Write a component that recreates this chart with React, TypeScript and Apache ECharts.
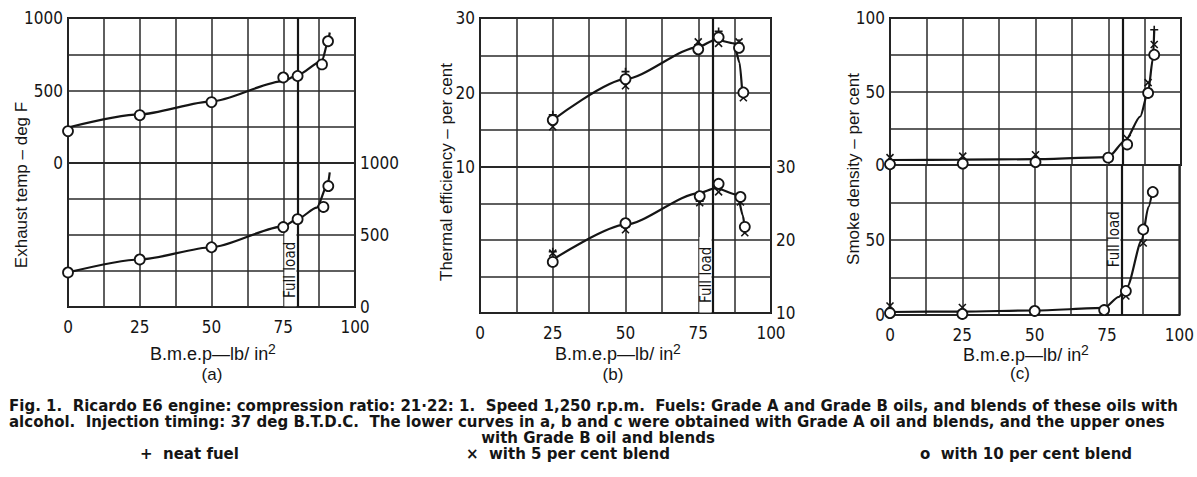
import React, { useEffect, useRef } from "react";
import * as echarts from "echarts";

// ---------------- data ----------------
const bmepLabels = [0, 25, 50, 75, 100];
const fullLoadBmep = 80;

// (a) Exhaust temperature, deg F
const aUpperYLabels = [0, 500, 1000];
const aLowerYLabels = [0, 500, 1000];
const aUpperPtsX = [0, 25, 50, 75, 80, 88.5, 90.6];
const aUpperCircle = [220, 330, 420, 590, 600, 680, 840];
const aUpperCurveX = [0, 25, 50, 75, 80, 88.5, 90.5, 91.2];
const aUpperCurveY = [245, 335, 425, 565, 607, 705, 830, 900];
const aLowerPtsX = [0, 25, 50, 75, 80, 89, 90.7];
const aLowerCircle = [240, 330, 415, 555, 610, 695, 840];
const aLowerCross = [240, 330, null, null, null, null, null];
const aLowerCurveX = [0, 25, 50, 75, 80, 86.7, 90.6, 91.2];
const aLowerCurveY = [240, 330, 415, 560, 612, 690, 860, 935];

// (b) Thermal efficiency, per cent
const bUpperYLabels = [10, 20, 30];
const bLowerYLabels = [10, 20, 30];
const bUpperPtsX = [25, 50, 75, 82, 89, 90.5];
const bUpperCircle = [16.3, 21.8, 25.8, 27.4, 26.0, 20.0];
const bUpperCross = [15.4, 20.9, 26.8, 26.6, 26.8, 19.3];
const bUpperPlus = [17.0, 22.8, 26.4, 28.2, 26.6, null];
const bUpperCurveX = [25, 50, 75, 81, 87.3, 89.2, 90.2];
const bUpperCurveY = [16.3, 21.8, 26.1, 27.1, 26.6, 24.0, 19.6];
const bLowerPtsX = [25, 50, 75.5, 82, 89.5, 91];
const bLowerCircle = [17.0, 22.3, 26.0, 27.7, 25.9, 21.8];
const bLowerCross = [18.2, 21.4, 25.1, 26.6, 25.2, 21.0];
const bLowerPlus = [18.4, 21.8, 25.3, null, null, null];
const bLowerCurveX = [25, 50, 75, 81, 88.5, 90.3, 91];
const bLowerCurveY = [17.3, 22.1, 26.4, 27.1, 26.2, 23.4, 21.6];

// (c) Smoke density, per cent
const cUpperYLabels = [0, 50, 100];
const cLowerYLabels = [0, 50];
const cUpperPtsX = [0, 25, 50, 75, 81.5, 88.7, 90.8];
const cUpperCircle = [0.5, 1, 2, 5, 14, 49, 75];
const cUpperCross = [5, 6, 7, null, 18, 56, 82];
const cUpperPlus = [null, null, null, null, null, null, 92];
const cUpperCurveX = [0, 25, 50, 75, 81, 86, 88.7, 90.4, 90.8];
const cUpperCurveY = [3.4, 3.6, 4, 5.4, 17, 33, 50, 73, 92];
const cLowerPtsX = [0, 25, 50, 74, 81.5, 87.5, 90.8];
const cLowerCircle = [1.3, 0.7, 2.7, 3.3, 16, 57, 82];
const cLowerCross = [6, 5, null, null, 12.7, 48, null];
const cLowerCurveX = [0, 25, 50, 74, 79, 82, 87, 89.3, 90.8];
const cLowerCurveY = [2, 2.3, 3, 4.7, 12, 19, 50, 72, 84];

// texts
const xTitle = "B.m.e.p—lb/ in";
const xTitleSup = "2";
const yTitleA = "Exhaust temp – deg F";
const yTitleB = "Thermal efficiency – per cent";
const yTitleC = "Smoke density – per cent";
const panelLetters = ["(a)", "(b)", "(c)"];
const fullLoadText = "Full load";
const cap1 =
  "Fig. 1.  Ricardo E6 engine: compression ratio: 21·22: 1.  Speed 1,250 r.p.m.  Fuels: Grade A and Grade B oils, and blends of these oils with";
const cap2 =
  "alcohol.  Injection timing: 37 deg B.T.D.C.  The lower curves in a, b and c were obtained with Grade A oil and blends, and the upper ones";
const cap3 = "with Grade B oil and blends";
const legendTexts = ["+  neat fuel", "×  with 5 per cent blend", "o  with 10 per cent blend"];

// ---------------- styling ----------------
const INK = "#151515";
const FONT_TICK = "'Liberation Sans Narrow', 'DejaVu Sans Condensed', 'Liberation Sans', Arial, sans-serif";
const FONT_TITLE = "'Liberation Sans', Arial, sans-serif";
const FONT_CAP = "'DejaVu Sans', sans-serif";
const CAP_WEIGHT = "bold";
const SYM_CROSS = "path://M0,0L10,10M10,0L0,10";
const SYM_PLUS = "path://M5,0L5,10M0,5L10,5";

const zip = (xs: number[], ys: (number | null)[]) =>
  xs.map((x, i) => [x, ys[i]]).filter((p) => p[1] !== null && p[1] !== undefined);

function measure(text: string, font: string) {
  const ctx = document.createElement("canvas").getContext("2d");
  if (!ctx) return text.length * 8.5;
  ctx.font = font;
  return ctx.measureText(text).width;
}

export default function App() {
  const ref = useRef<HTMLDivElement>(null);

  useEffect(() => {
    if (!ref.current) return;
    const chart = echarts.init(ref.current, undefined, { renderer: "svg" });

    const panels = [
      {
        left: 68, width: 287, upTop: 18, upH: 145, loH: 144,
        yMin: 0, yMax: 1000, yInt: 250,
        upLabels: aUpperYLabels, loLabels: aLowerYLabels, loSide: "right",
        up: { curve: zip(aUpperCurveX, aUpperCurveY), circle: zip(aUpperPtsX, aUpperCircle), cross: [], plus: [] },
        lo: { curve: zip(aLowerCurveX, aLowerCurveY), circle: zip(aLowerPtsX, aLowerCircle), cross: zip(aLowerPtsX, aLowerCross), plus: [] },
        box: [6, 510],
      },
      {
        left: 480, width: 291, upTop: 18, upH: 149, loH: 146,
        yMin: 10, yMax: 30, yInt: 5,
        upLabels: bUpperYLabels, loLabels: bLowerYLabels, loSide: "right",
        up: { curve: zip(bUpperCurveX, bUpperCurveY), circle: zip(bUpperPtsX, bUpperCircle), cross: zip(bUpperPtsX, bUpperCross), plus: zip(bUpperPtsX, bUpperPlus) },
        lo: { curve: zip(bLowerCurveX, bLowerCurveY), circle: zip(bLowerPtsX, bLowerCircle), cross: zip(bLowerPtsX, bLowerCross), plus: zip(bLowerPtsX, bLowerPlus) },
        box: [10.06, 20.4],
      },
      {
        left: 890, width: 291, upTop: 18, upH: 147, loH: 150,
        yMin: 0, yMax: 100, yInt: 25,
        upLabels: cUpperYLabels, loLabels: cLowerYLabels, loSide: "left",
        up: { curve: zip(cUpperCurveX, cUpperCurveY), circle: zip(cUpperPtsX, cUpperCircle), cross: zip(cUpperPtsX, cUpperCross), plus: zip(cUpperPtsX, cUpperPlus) },
        lo: { curve: zip(cLowerCurveX, cLowerCurveY), circle: zip(cLowerPtsX, cLowerCircle), cross: zip(cLowerPtsX, cLowerCross), plus: [] },
        box: [28, 73],
      },
    ];

    const grid: any[] = [];
    const xAxis: any[] = [];
    const yAxis: any[] = [];
    const series: any[] = [];
    const splitLine = { show: true, lineStyle: { color: "#2a2a2a", width: 1.5 } };

    panels.forEach((p, pi) => {
      (["up", "lo"] as const).forEach((half, hi) => {
        const idx = pi * 2 + hi;
        const top = hi === 0 ? p.upTop : p.upTop + p.upH;
        const height = hi === 0 ? p.upH : p.loH;
        grid.push({ left: p.left, top, width: p.width, height, show: true, borderColor: INK, borderWidth: 2, backgroundColor: "transparent" });
        xAxis.push({
          type: "value", gridIndex: idx, min: 0, max: 100, interval: 12.5,
          axisLine: { show: false }, axisTick: { show: false }, splitLine,
          axisLabel: {
            show: hi === 1, margin: 11, color: INK, fontSize: 17, lineHeight: 18, fontFamily: FONT_TICK,
            formatter: (v: number) => (bmepLabels.includes(v) ? String(v) : ""),
          },
        });
        const labels = hi === 0 ? p.upLabels : p.loLabels;
        yAxis.push({
          type: "value", gridIndex: idx, min: p.yMin, max: p.yMax, interval: p.yInt,
          position: hi === 0 ? "left" : p.loSide,
          axisLine: { show: false }, axisTick: { show: false }, splitLine,
          axisLabel: {
            margin: 5, color: INK, fontSize: 17, lineHeight: 18, fontFamily: FONT_TICK,
            formatter: (v: number) => (labels.includes(v) ? String(v) : ""),
          },
        });
        const d = (p as any)[half];
        const curve: any = {
          type: "line", xAxisIndex: idx, yAxisIndex: idx, data: d.curve,
          showSymbol: false, smooth: 0.25, smoothMonotone: "x", clip: false,
          lineStyle: { color: INK, width: 2.2 }, z: 3,
          markLine: {
            silent: true, symbol: "none", label: { show: false },
            lineStyle: { color: INK, width: 2.2, type: "solid" },
            data: [{ xAxis: fullLoadBmep }],
          },
        };
        if (hi === 1) {
          curve.markArea = {
            silent: true,
            itemStyle: { color: "#ffffff", opacity: 1 },
            label: {
              show: true, position: "inside", rotate: 90, color: INK,
              fontSize: 15, fontFamily: FONT_TICK,
            },
            data: [[{ name: fullLoadText, xAxis: 75.4, yAxis: p.box[0] }, { xAxis: 79.6, yAxis: p.box[1] }]],
          };
        }
        series.push(curve);
        series.push({
          type: "scatter", xAxisIndex: idx, yAxisIndex: idx, data: d.cross, clip: false,
          symbol: SYM_CROSS, symbolSize: 7,
          itemStyle: { color: "transparent", borderColor: INK, borderWidth: 1.6, opacity: 1 }, z: 4,
        });
        series.push({
          type: "scatter", xAxisIndex: idx, yAxisIndex: idx, data: d.plus, clip: false,
          symbol: SYM_PLUS, symbolSize: 8,
          itemStyle: { color: "transparent", borderColor: INK, borderWidth: 1.6, opacity: 1 }, z: 4,
        });
        series.push({
          type: "scatter", xAxisIndex: idx, yAxisIndex: idx, data: d.circle, clip: false,
          symbol: "circle", symbolSize: 10,
          itemStyle: { color: "#ffffff", borderColor: INK, borderWidth: 1.8, opacity: 1 }, z: 5,
        });
      });
    });

    // caption font size fitted to the printed line width
    const target = 1178;
    const base = 15;
    const w1 = measure(cap1, `${CAP_WEIGHT} ${base}px 'DejaVu Sans'`);
    const w2 = measure(cap2, `${CAP_WEIGHT} ${base}px 'DejaVu Sans'`);
    let capSize = Math.min((base * target) / w1, (base * target) / w2);
    capSize = Math.max(11, Math.min(15, capSize));

    const yTitle = (text: string, x: number, y: number) => ({
      type: "text", x, y, rotation: Math.PI / 2,
      style: { text, align: "center", verticalAlign: "middle", fill: INK, fontSize: 17, fontFamily: FONT_TITLE },
    });
    const xTitleEl = (x: number, y: number) => ({
      type: "text", x, y,
      style: {
        text: `{a|${xTitle}}{b|${xTitleSup}}`, align: "center", verticalAlign: "middle",
        rich: {
          a: { fontSize: 18, fontFamily: FONT_TITLE, fill: INK, lineHeight: 21, verticalAlign: "bottom" },
          b: { fontSize: 14, fontFamily: FONT_TITLE, fill: INK, lineHeight: 21, verticalAlign: "top" },
        },
      },
    });
    const letter = (text: string, x: number, y: number) => ({
      type: "text", x, y,
      style: { text, align: "center", verticalAlign: "middle", fill: INK, fontSize: 17, fontFamily: FONT_TITLE },
    });
    const cap = (text: string, x: number, y: number, align = "left") => ({
      type: "text", x, y,
      style: {
        text, align, verticalAlign: "middle", fill: INK, fontSize: capSize, lineHeight: 14,
        fontWeight: CAP_WEIGHT, fontFamily: FONT_CAP,
      },
    });

    const graphic = [
      yTitle(yTitleA, 21, 185),
      yTitle(yTitleB, 446, 172),
      yTitle(yTitleC, 853, 169),
      xTitleEl(213, 352),
      xTitleEl(618, 352),
      xTitleEl(1026, 353),
      letter(panelLetters[0], 212, 374),
      letter(panelLetters[1], 613, 374),
      letter(panelLetters[2], 1020, 373),
      cap(cap1, 9, 406),
      cap(cap2, 9, 422),
      cap(cap3, 598, 438, "center"),
      cap(legendTexts[0], 140, 454),
      cap(legendTexts[1], 466, 454),
      cap(legendTexts[2], 920, 454),
    ];

    chart.setOption({
      animation: false,
      backgroundColor: "#ffffff",
      grid, xAxis, yAxis, series, graphic,
    });

    return () => chart.dispose();
  }, []);

  return <div ref={ref} style={{ position: "absolute", left: 0, top: 0, width: 1197, height: 477 }} />;
}
